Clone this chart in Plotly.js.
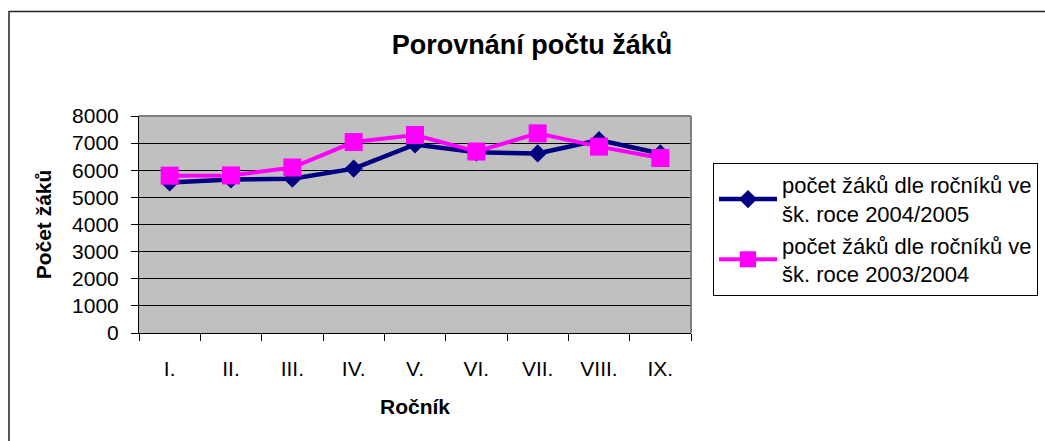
<!DOCTYPE html>
<html>
<head>
<meta charset="utf-8">
<script src="https://cdn.plot.ly/plotly-3.0.1.min.js"></script>
<style>
html,body{margin:0;padding:0;background:#fff;}
#chart{width:1045px;height:441px;}
</style>
</head>
<body>
<div id="chart"></div>
<script>
const categories = ["I.", "II.", "III.", "IV.", "V.", "VI.", "VII.", "VIII.", "IX."];
const values2004 = [5550, 5660, 5690, 6060, 6950, 6660, 6620, 7110, 6620];
const values2003 = [5800, 5810, 6100, 7040, 7300, 6690, 7360, 6870, 6450];
const name2004 = "počet žáků dle ročníků ve<br>šk. roce 2004/2005";
const name2003 = "počet žáků dle ročníků ve<br>šk. roce 2003/2004";
const chartTitle = "Porovnání počtu žáků";
const xTitle = "Ročník";
const yTitle = "Počet žáků";

const FONT = "Liberation Sans, Arial, sans-serif";

const traces = [
  {
    x: categories, y: values2004, name: name2004, type: "scatter", mode: "lines+markers",
    line: {color: "#000080", width: 4.5},
    marker: {symbol: "diamond", size: 14, color: "#000080"}
  },
  {
    x: categories, y: values2003, name: name2003, type: "scatter", mode: "lines+markers",
    line: {color: "#FF00FF", width: 4},
    marker: {symbol: "square", size: 18, color: "#FF00FF"}
  }
];

const layout = {
  width: 1045, height: 441,
  margin: {l: 139, r: 354, t: 116, b: 108, autoexpand: false},
  paper_bgcolor: "#ffffff",
  plot_bgcolor: "#C0C0C0",
  font: {family: FONT, size: 21, color: "#000"},
  showlegend: true,
  title: {
    text: "<b>" + chartTitle + "</b>",
    font: {family: FONT, size: 27, color: "#000"},
    x: 0.509, xanchor: "center", y: 0.898, yanchor: "middle"
  },
  xaxis: {
    type: "category",
    range: [-0.5, 8.5],
    tickson: "boundaries",
    ticks: "outside", ticklen: 7, tickcolor: "#000", tickwidth: 1,
    showline: true, linecolor: "#000", linewidth: 1,
    showgrid: false, zeroline: false,
    ticklabelstandoff: 17,
    tickfont: {family: FONT, size: 21},
    title: {text: "<b>" + xTitle + "</b>", font: {family: FONT, size: 21}, standoff: 20}
  },
  yaxis: {
    range: [0, 8000], dtick: 1000, tick0: 0,
    ticks: "outside", ticklen: 7, tickcolor: "#000", tickwidth: 1,
    showline: true, linecolor: "#000", linewidth: 1,
    showgrid: true, gridcolor: "#000", gridwidth: 1,
    zeroline: false,
    ticklabelstandoff: 8,
    tickfont: {family: FONT, size: 21},
    title: {text: "<b>" + yTitle + "</b>", font: {family: FONT, size: 21}, standoff: 14}
  },
  legend: {
    xref: "container", yref: "container",
    x: 0.6823, xanchor: "left", y: 0.6304, yanchor: "top",
    bordercolor: "#000", borderwidth: 1, bgcolor: "#fff",
    font: {family: FONT, size: 22, color: "#000"},
    itemwidth: 58,
    tracegroupgap: 0
  },
  shapes: [
    {type: "line", xref: "paper", yref: "paper", x0: 0, x1: 1, y0: 1, y1: 1,
     line: {color: "#808080", width: 2}},
    {type: "line", xref: "paper", yref: "paper", x0: 1, x1: 1, y0: 0, y1: 1,
     line: {color: "#808080", width: 2}},
    {type: "rect", xref: "paper", yref: "paper", x0: -0.2355, x1: 1.8, y0: -0.7, y1: 1.4816,
     line: {color: "#222", width: 1.5}, fillcolor: "rgba(0,0,0,0)"}
  ]
};

Plotly.newPlot("chart", traces, layout, {displayModeBar: false, staticPlot: true});
</script>
</body>
</html>
